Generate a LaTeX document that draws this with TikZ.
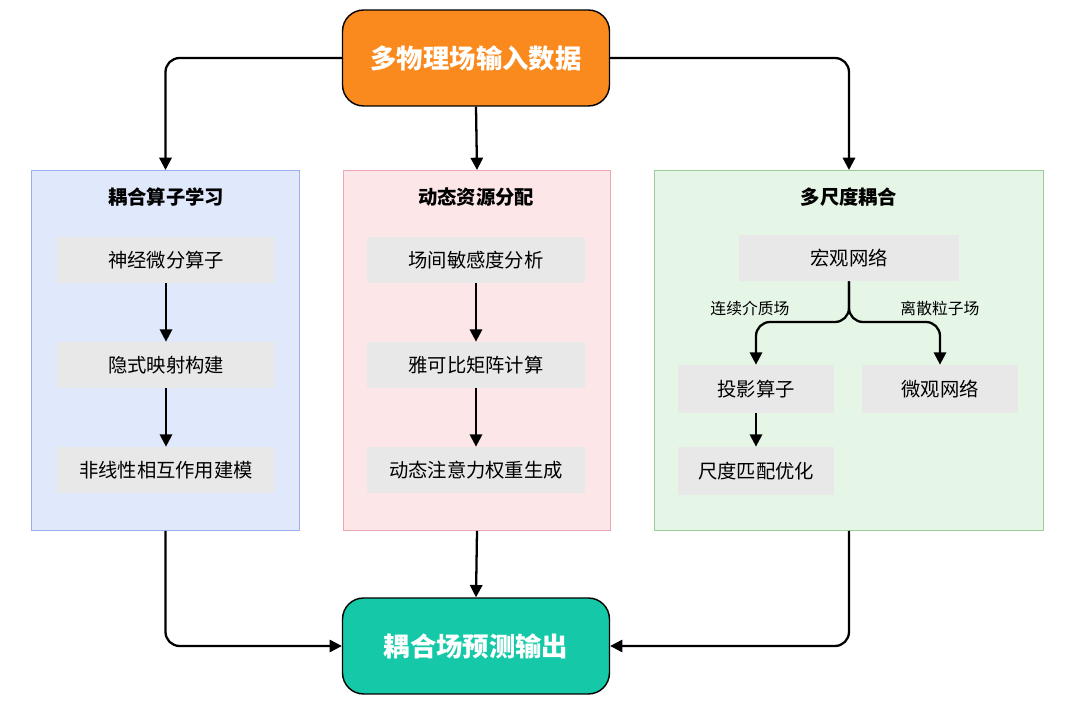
\documentclass[tikz,border=0pt]{standalone}
\usepackage{fontspec}
\setmainfont{Noto Sans CJK SC}
\usetikzlibrary{arrows.meta,positioning}
\definecolor{orangeA}{HTML}{FA8A1E}
\definecolor{tealA}{HTML}{14C8A8}
\definecolor{blueF}{HTML}{E0E8FC}
\definecolor{blueD}{HTML}{9AAEF0}
\definecolor{pinkF}{HTML}{FCE6E8}
\definecolor{pinkD}{HTML}{EAA8B0}
\definecolor{greenF}{HTML}{E6F6E6}
\definecolor{greenD}{HTML}{9CCC9C}
\definecolor{grayF}{HTML}{E8E8E8}
\tikzset{
  mainbox/.style={draw=black, thick, rounded corners=12pt, minimum width=5.34cm, minimum height=1.92cm, text=white, font=\fontsize{15}{18}\selectfont\bfseries},
  panel/.style={draw=#1D, fill=#1F, line width=0.6pt, anchor=north west},
  ptitle/.style={font=\fontsize{11}{13}\selectfont\bfseries},
  stepbox/.style={fill=grayF, minimum width=4.38cm, minimum height=0.92cm, font=\fontsize{11}{13}\selectfont},
  smallbox/.style={fill=grayF, minimum width=3.12cm, minimum height=0.96cm, font=\fontsize{11}{13}\selectfont},
  lbl/.style={font=\fontsize{9}{11}\selectfont},
  arr/.style={-{Triangle[length=7pt,width=7pt]}, line width=1.3pt, rounded corners=8pt},
}
\begin{document}
\begin{tikzpicture}[x=0.02cm,y=-0.02cm]
    \useasboundingbox (0,0) rectangle (1080,709);

    % Eingang und Ausgang
    \node[mainbox, fill=orangeA] (input) at (476,58) {多物理场输入数据};
    \node[mainbox, fill=tealA] (output) at (476,646) {耦合场预测输出};

    % Panels
    \node[panel=blue, minimum width=5.36cm, minimum height=7.2cm] (pleft) at (31,170) {};
    \node[panel=pink, minimum width=5.34cm, minimum height=7.2cm] (pmid) at (343,170) {};
    \node[panel=green, minimum width=7.78cm, minimum height=7.2cm] (pright) at (654,170) {};
    \node[ptitle] at (166,197) {耦合算子学习};
    \node[ptitle] at (476,197) {动态资源分配};
    \node[ptitle] at (849,197) {多尺度耦合};

    % Linke Spalte
    \node[stepbox] (l1) at (166,260) {神经微分算子};
    \node[stepbox] (l2) at (166,365) {隐式映射构建};
    \node[stepbox] (l3) at (166,470) {非线性相互作用建模};

    % Mittlere Spalte
    \node[stepbox] (m1) at (476,260) {场间敏感度分析};
    \node[stepbox] (m2) at (476,365) {雅可比矩阵计算};
    \node[stepbox] (m3) at (476,470) {动态注意力权重生成};

    % Rechte Spalte
    \node[stepbox, minimum width=4.42cm] (macro) at (849,258) {宏观网络};
    \node[smallbox] (proj) at (756,389) {投影算子};
    \node[smallbox] (micro) at (940,389) {微观网络};
    \node[smallbox] (match) at (756,471) {尺度匹配优化};
    \node[lbl] at (750,308) {连续介质场};
    \node[lbl] at (940,308) {离散粒子场};

    % Verbindungen
    \draw[arr] (input.west) -| (pleft.north);
    \draw[arr] (input.south) -- (pmid.north);
    \draw[arr] (input.east) -| (pright.north);
    \draw[arr] (l1) -- (l2);
    \draw[arr] (l2) -- (l3);
    \draw[arr] (m1) -- (m2);
    \draw[arr] (m2) -- (m3);
    \draw[arr] (macro.south) -- (849,322) -| (proj.north);
    \draw[arr] (macro.south) -- (849,322) -| (micro.north);
    \draw[arr] (proj) -- (match);
    \draw[arr] (pleft.south) |- (output.west);
    \draw[arr] (pmid.south) -- (output.north);
    \draw[arr] (pright.south -| macro.south) |- (output.east);
\end{tikzpicture}
\end{document}
